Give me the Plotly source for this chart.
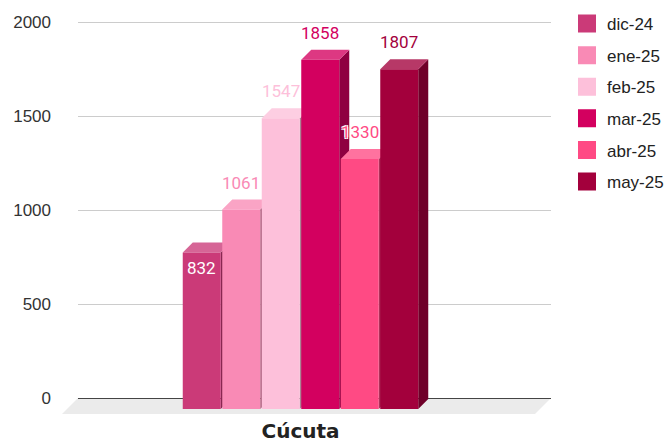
import plotly.graph_objects as go

# ---------------- data ----------------
categories = ["Cúcuta"]
months = ["dic-24", "ene-25", "feb-25", "mar-25", "abr-25", "may-25"]
values = [832, 1061, 1547, 1858, 1330, 1807]
y_ticks = [0, 500, 1000, 1500, 2000]
colors = ["#CB3A78", "#F98AB5", "#FDC0DA", "#D3005F", "#FF4A84", "#A3003C"]
inside_labels = ["dic-24"]

# ---------------- layout constants (pixels) ----------------
W, H = 668, 444
PL, PR = 78, 551          # back wall left / right
PT, PB = 10, 414          # plot area top / bottom
Y0_BACK = 398             # pixel of value 0 on back wall
PXU = 0.188               # pixels per value unit
BAR_DEPTH = 10            # oblique depth of bars (px)
FLOOR_DEPTH = 16          # oblique depth of floor (px)
FLOOR_FRONT_RIGHT = 535
GROUP_CENTER = 300.5
BAR_W = 38
SLOT = 39.5
LABEL_FONT = "Roboto, Arial, sans-serif"
AXIS_FONT = "Arial, 'Liberation Sans', sans-serif"

PW = PR - PL
PH = PB - PT
x_lo = -(GROUP_CENTER - PL) / PW
y_lo = -(PB - Y0_BACK) / PXU
y_hi = (Y0_BACK - PT) / PXU
BASE = -BAR_DEPTH / PXU * 1.1   # bar front sits in front of the back wall


def mix(c, t, target):
    r, g, b = int(c[1:3], 16), int(c[3:5], 16), int(c[5:7], 16)
    f = lambda v: round(v + (target - v) * t)
    return "#%02X%02X%02X" % (f(r), f(g), f(b))


def tint(c):
    return mix(c, 0.22, 255)


def shade(c):
    return mix(c, 0.32, 0)


fig = go.Figure()
shapes = []
annotations = []

dx = BAR_DEPTH / PW
dy = BAR_DEPTH / PXU
bw = BAR_W / PW
n = len(values)
start = -((n - 1) * SLOT + BAR_W) / 2 / PW

# floor
fx0 = (PL - FLOOR_DEPTH - PL) / PW
fx1 = (FLOOR_FRONT_RIGHT - PL) / PW
fy_back = (PB - Y0_BACK) / PH
shapes.append(dict(type="path", xref="paper", yref="paper", layer="below",
                   path=f"M{fx0},0 L{fx1},0 L1,{fy_back} L0,{fy_back} Z",
                   fillcolor="#EBEBEB", line=dict(width=0)))

for i, (m, v, c) in enumerate(zip(months, values, colors)):
    off = start + i * SLOT / PW
    xl, xr = off, off + bw
    top = BASE + v
    fig.add_trace(go.Bar(
        x=[0], y=[v], base=[BASE], width=[bw], offset=[off], name=m,
        marker=dict(color=c, line=dict(width=0)), showlegend=False,
        hoverinfo="skip"))
    # side face
    shapes.append(dict(type="path", xref="x", yref="y", layer="between",
                       path=f"M{xr},{BASE} L{xr},{top} L{xr+dx},{top+dy} L{xr+dx},{BASE+dy} Z",
                       fillcolor=shade(c), line=dict(width=0)))
    # top face
    shapes.append(dict(type="path", xref="x", yref="y", layer="between",
                       path=f"M{xl},{top} L{xr},{top} L{xr+dx},{top+dy} L{xl+dx},{top+dy} Z",
                       fillcolor=tint(c), line=dict(width=0)))
    inside = m in inside_labels
    annotations.append(dict(
        x=(xl + xr) / 2, y=top, xref="x", yref="y", text=str(v), showarrow=False,
        yshift=-15 if inside else 27,
        font=dict(family=LABEL_FONT, size=17, color="#FFFFFF" if inside else c,
                  shadow="none" if inside else
                  "1px 1px 0 #fff, -1px -1px 0 #fff, 1px -1px 0 #fff, -1px 1px 0 #fff, 0 0 2px #fff")))

# legend entries
for m, c in zip(months, colors):
    fig.add_trace(go.Scatter(
        x=[None], y=[None], mode="markers", name=m, legendgroup=m,
        marker=dict(symbol="square", size=16, color=c, line=dict(color=c, width=2))))

fig.update_layout(
    width=W, height=H,
    margin=dict(l=PL, r=W - PR, t=PT, b=H - PB, autoexpand=False),
    paper_bgcolor="#FFFFFF", plot_bgcolor="rgba(0,0,0,0)",
    barmode="overlay",
    shapes=shapes, annotations=annotations,
    xaxis=dict(range=[x_lo, x_lo + 1], tickvals=[0], ticktext=categories,
               showgrid=False, zeroline=False, showline=False, ticks="",
               tickfont=dict(family="'DejaVu Sans', Verdana, sans-serif", size=20,
                             color="#222222", weight="bold"),
               ticklabelstandoff=3, fixedrange=True, automargin=False),
    yaxis=dict(range=[y_lo, y_hi], tickvals=y_ticks, showgrid=True, gridcolor="#CCCCCC",
               gridwidth=1, zeroline=True, zerolinecolor="#444444", zerolinewidth=1,
               showline=False, ticks="", ticklabelstandoff=26, automargin=False,
               tickfont=dict(family=AXIS_FONT, size=17, color="#333333"), fixedrange=True),
    legend=dict(x=567 / W, y=1 - 6 / H, xref="container", yref="container",
                xanchor="left", yanchor="top", traceorder="grouped", tracegroupgap=6.5,
                font=dict(family=AXIS_FONT, size=17, color="#222222"),
                bgcolor="rgba(0,0,0,0)"),
)

fig.write_html("out.html", config={"displayModeBar": False},
               post_script="document.body.style.margin='0px';")
